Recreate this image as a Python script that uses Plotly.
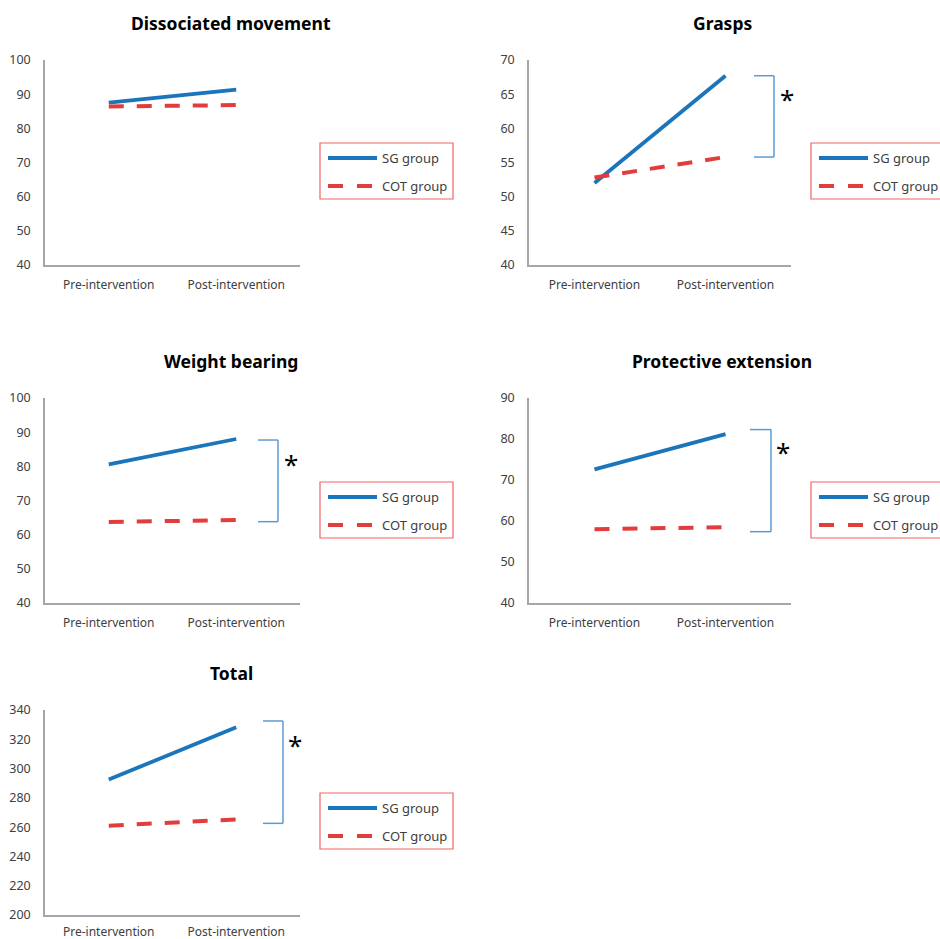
import plotly.graph_objects as go

W, H = 940, 939

categories = ["Pre-intervention", "Post-intervention"]
titles = ["Dissociated movement", "Grasps", "Weight bearing", "Protective extension", "Total"]
sg_values = [[87.5, 91.3], [52.0, 67.7], [80.6, 88.0], [72.6, 81.2], [292.5, 328.2]]
cot_values = [[86.4, 86.8], [52.8, 55.8], [63.7, 64.3], [58.0, 58.5], [261.0, 265.3]]
y_ranges = [[40, 100], [40, 70], [40, 100], [40, 90], [200, 340]]
y_dtick = [10, 5, 10, 10, 20]
# significance brackets (top, bottom) per panel; None = no bracket
brackets = [None, [67.7, 55.8], [87.7, 63.8], [82.3, 57.4], [332.5, 262.6]]
star_y = [None, 64.7, 81.6, 77.6, 318.0]
series_names = ["SG group", "COT group"]

SG_COLOR = "#1B75BB"
COT_COLOR = "#E23C3C"
BR_COLOR = "#5B9BD5"
AX_COLOR = "#A6A6A6"
FONT = "Noto Sans"

# layout geometry (pixels)
col_x = [(45, 300), (529, 791)]
row_y = [(60, 265), (398, 603), (710, 915)]
panel_pos = [(0, 0), (1, 0), (0, 1), (1, 1), (0, 2)]
title_cx = [231, 722]
title_y = [23, 361, 673]
legend_x = [320, 811]
legend_top = [143, 482, 793]
bracket_dx = [None, (225, 245), (213, 233), (221, 242), (218, 238)]
star_dx = [None, 258, 246, 254, 250]
x_standoff = [8, 8, 8, 8, 5]


def px(x):
    return x / W


def py(y):
    return 1 - y / H


fig = go.Figure()
shapes = []
annotations = []

for i in range(5):
    c, r = panel_pos[i]
    n = "" if i == 0 else str(i + 1)
    x0, x1 = col_x[c]
    ytop, ybot = row_y[r]
    fig.add_trace(go.Scatter(x=categories, y=sg_values[i], mode="lines",
                             line=dict(color=SG_COLOR, width=3.8),
                             name=series_names[0], showlegend=False,
                             xaxis="x" + n, yaxis="y" + n))
    fig.add_trace(go.Scatter(x=categories, y=cot_values[i], mode="lines",
                             line=dict(color=COT_COLOR, width=4, dash="15px,13px"),
                             name=series_names[1], showlegend=False,
                             xaxis="x" + n, yaxis="y" + n))
    fig.update_layout(**{
        "xaxis" + n: dict(domain=[px(x0), px(x1)], anchor="y" + n,
                          type="category", range=[-0.5, 1.5],
                          showline=True, linecolor=AX_COLOR, linewidth=1.5,
                          showgrid=False, zeroline=False, ticks="",
                          ticklabelstandoff=x_standoff[i],
                          tickfont=dict(family=FONT, size=12, color="#404040")),
        "yaxis" + n: dict(domain=[py(ybot), py(ytop)], anchor="x" + n,
                          range=y_ranges[i], dtick=y_dtick[i],
                          showline=True, linecolor=AX_COLOR, linewidth=1.5,
                          showgrid=False, zeroline=False, ticks="",
                          ticklabelstandoff=10,
                          tickfont=dict(family=FONT, size=12.5, color="#404040")),
    })
    # title
    annotations.append(dict(text="<b>" + titles[i] + "</b>", xref="paper", yref="paper",
                            x=px(title_cx[c]), y=py(title_y[r]), xanchor="center",
                            yanchor="middle", showarrow=False,
                            font=dict(family=FONT, size=17.5, color="#000000")))
    # significance bracket
    if brackets[i] is not None:
        top, bot = brackets[i]
        bx0 = px(x0 + bracket_dx[i][0])
        bx1 = px(x0 + bracket_dx[i][1])
        yr = "y" + n
        for (xa, ya, xb, yb) in [(bx0, top, bx1, top), (bx1, top, bx1, bot), (bx0, bot, bx1, bot)]:
            shapes.append(dict(type="line", xref="paper", yref=yr, x0=xa, y0=ya, x1=xb, y1=yb,
                               line=dict(color=BR_COLOR, width=1.5)))
        annotations.append(dict(text="*", xref="paper", yref=yr,
                                x=px(x0 + star_dx[i]), y=star_y[i], xanchor="center",
                                yanchor="middle", yshift=-3, showarrow=False,
                                font=dict(family=FONT, size=26, color="#000000")))
    # legend box
    lx = legend_x[c]
    lt = legend_top[r]
    shapes.append(dict(type="rect", xref="paper", yref="paper",
                       x0=px(lx), x1=px(lx + 133), y0=py(lt), y1=py(lt + 56),
                       line=dict(color="#F06464", width=1.2), fillcolor="rgba(0,0,0,0)"))
    shapes.append(dict(type="line", xref="paper", yref="paper",
                       x0=px(lx + 8), x1=px(lx + 57), y0=py(lt + 15), y1=py(lt + 15),
                       line=dict(color=SG_COLOR, width=3.8)))
    shapes.append(dict(type="line", xref="paper", yref="paper",
                       x0=px(lx + 8), x1=px(lx + 57), y0=py(lt + 43), y1=py(lt + 43),
                       line=dict(color=COT_COLOR, width=4, dash="15px,14px")))
    for k, (name, dy) in enumerate(zip(series_names, [15, 43])):
        annotations.append(dict(text=name, xref="paper", yref="paper",
                                x=px(lx + 60), y=py(lt + dy), xanchor="left",
                                yanchor="middle", showarrow=False,
                                font=dict(family=FONT, size=13, color="#404040")))

fig.update_layout(width=W, height=H, margin=dict(l=0, r=0, t=0, b=0, autoexpand=False),
                  paper_bgcolor="white", plot_bgcolor="white",
                  shapes=shapes, annotations=annotations, showlegend=False)

fig.write_html("out.html", config={"displayModeBar": False},
               post_script="document.body.style.margin='0px';document.body.style.overflow='hidden';")
